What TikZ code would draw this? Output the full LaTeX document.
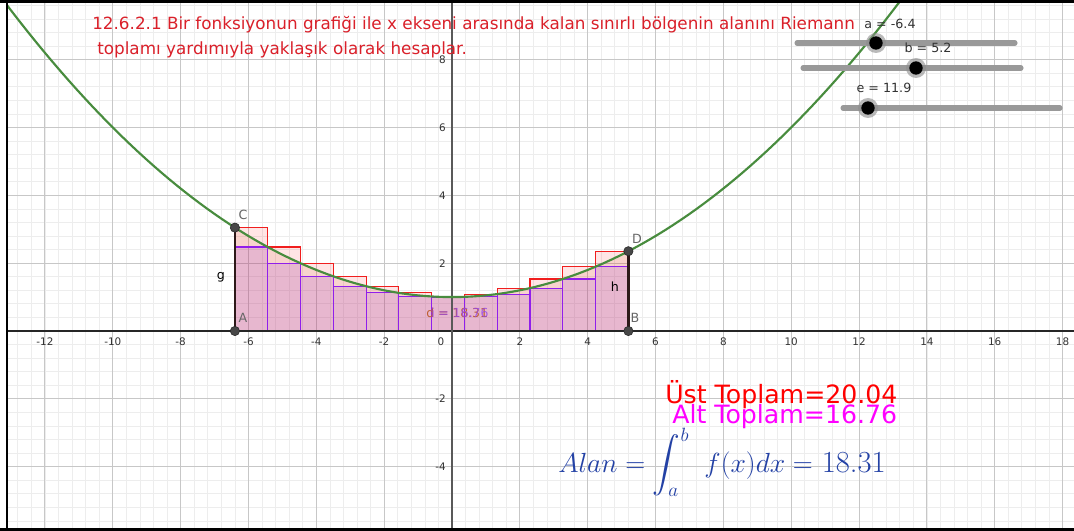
\documentclass[tikz,border=0pt]{standalone}
\usepackage{amsmath}
\usepackage{exscale}
\usepackage[no-math]{fontspec}
\newfontfamily\ggfont{DejaVu Sans}
\definecolor{titlered}{RGB}{218,32,42}
\definecolor{curvegreen}{RGB}{72,140,62}
\definecolor{uppered}{RGB}{240,30,30}
\definecolor{lowpurple}{RGB}{145,30,235}
\definecolor{lowfillc}{RGB}{150,50,220}
\definecolor{intfillc}{RGB}{210,110,70}
\definecolor{segdark}{RGB}{45,25,25}
\definecolor{formblue}{RGB}{35,65,165}
\definecolor{dbrown}{RGB}{190,95,50}
\definecolor{ipurple}{RGB}{150,70,235}
\definecolor{sumred}{RGB}{255,0,0}
\definecolor{summag}{RGB}{255,0,255}
\tikzset{
  minorgrid/.style={draw=black!7, line width=0.55pt},
  majorgrid/.style={draw=black!22, line width=0.75pt},
  axisline/.style={draw=black!85, line width=0.9pt},
  yaxisline/.style={draw=black!65, line width=0.9pt},
  upfill/.style={fill=red, fill opacity=0.1},
  intfill/.style={fill=intfillc, fill opacity=0.15},
  lowfill/.style={fill=lowfillc, fill opacity=0.17},
  upline/.style={draw=uppered, line width=0.8pt},
  lowline/.style={draw=lowpurple, line width=0.8pt},
  curveline/.style={draw=curvegreen, line width=1.6pt},
  segline/.style={draw=segdark, line width=1.9pt},
  ptdot/.style={circle, fill=black!72, draw=black!85, line width=0.4pt, minimum size=7pt, inner sep=0pt},
  tick/.style={font=\ggfont\fontsize{7.8}{9}\selectfont, text=black!80, inner sep=0pt},
  ptlabel/.style={font=\ggfont\fontsize{9.5}{11}\selectfont, text=black!60, inner sep=0pt},
  seglabel/.style={font=\ggfont\fontsize{9.5}{11}\selectfont, text=black, inner sep=0pt},
  slidertext/.style={font=\ggfont\fontsize{9.5}{11}\selectfont, text=black!80, inner sep=0pt},
  track/.style={draw=black!40, line width=3.8pt, line cap=round},
  halo/.style={circle, fill=black!45, fill opacity=0.6, minimum size=15pt, inner sep=0pt},
  knob/.style={circle, fill=black, minimum size=10pt, inner sep=0pt},
  titletext/.style={font=\ggfont\fontsize{12.6}{15}\selectfont, text=titlered, inner sep=0pt, anchor=base west},
  bigtext/.style={font=\ggfont\fontsize{18.9}{22}\selectfont, inner sep=0pt, anchor=base west},
  smalllab/.style={font=\ggfont\fontsize{9.3}{11}\selectfont, inner sep=0pt, anchor=base west},
  frameline/.style={draw=black, line width=2.2pt}
}
\begin{document}
\begin{tikzpicture}[x=0.75pt,y=-0.75pt]
\useasboundingbox (0,0) rectangle (1074,531);
\fill[white] (0,0) rectangle (1074,531);
\begin{scope}
\clip (7,2) rectangle (1074,529);
\begin{scope}[shift={(339pt,-248.25pt)},x=25.44pt,y=25.44pt]
  % grid
  \draw[minorgrid] (-14,-6.4) grid[step=0.4] (19.2,10);
  \draw[majorgrid] (-14,-8) grid[step=2] (20,10);
  % fills
  \foreach \i in {0,...,11}{
    \pgfmathsetmacro\xl{-6.4+\i*11.6/12}
    \pgfmathsetmacro\xr{\xl+11.6/12}
    \pgfmathsetmacro\fl{0.05*(\xl)*(\xl)+1}
    \pgfmathsetmacro\fr{0.05*(\xr)*(\xr)+1}
    \pgfmathsetmacro\up{max(\fl,\fr)}
    \fill[upfill] (\xl,0) rectangle (\xr,\up);
  }
  \fill[intfill] (-6.4,0) -- plot[domain=-6.4:5.2, samples=80] (\x,{0.05*\x*\x+1}) -- (5.2,0) -- cycle;
  \foreach \i in {0,...,11}{
    \pgfmathsetmacro\xl{-6.4+\i*11.6/12}
    \pgfmathsetmacro\xr{\xl+11.6/12}
    \pgfmathsetmacro\fl{0.05*(\xl)*(\xl)+1}
    \pgfmathsetmacro\fr{0.05*(\xr)*(\xr)+1}
    \pgfmathsetmacro\mn{min(\fl,\fr)}
    \pgfmathsetmacro\lo{\mn-((\xl<0)*(\xr>0))*(\mn-1)}
    \fill[lowfill] (\xl,0) rectangle (\xr,\lo);
  }
  % outlines
  \foreach \i in {0,...,11}{
    \pgfmathsetmacro\xl{-6.4+\i*11.6/12}
    \pgfmathsetmacro\xr{\xl+11.6/12}
    \pgfmathsetmacro\fl{0.05*(\xl)*(\xl)+1}
    \pgfmathsetmacro\fr{0.05*(\xr)*(\xr)+1}
    \pgfmathsetmacro\up{max(\fl,\fr)}
    \draw[upline] (\xl,0) rectangle (\xr,\up);
  }
  \foreach \i in {0,...,11}{
    \pgfmathsetmacro\xl{-6.4+\i*11.6/12}
    \pgfmathsetmacro\xr{\xl+11.6/12}
    \pgfmathsetmacro\fl{0.05*(\xl)*(\xl)+1}
    \pgfmathsetmacro\fr{0.05*(\xr)*(\xr)+1}
    \pgfmathsetmacro\mn{min(\fl,\fr)}
    \pgfmathsetmacro\lo{\mn-((\xl<0)*(\xr>0))*(\mn-1)}
    \draw[lowline] (\xl,0) -- (\xl,\lo) -- (\xr,\lo) -- (\xr,0);
  }
  % axes
  \draw[axisline] (-14,0) -- (20,0);
  \draw[yaxisline] (0,-7) -- (0,11);
  % curve
  \draw[curveline] plot[domain=-13.6:13.6, samples=120] (\x,{0.05*\x*\x+1});
  % points and segments
  \coordinate (pA) at (-6.4,0);
  \coordinate (pB) at (5.2,0);
  \coordinate (pC) at (-6.4,3.048);
  \coordinate (pD) at (5.2,2.352);
  \draw[segline] (pA) -- (pC);
  \draw[segline] (pB) -- (pD);
  \node[ptdot] (A) at (pA) {};
  \node[ptdot] (B) at (pB) {};
  \node[ptdot] (C) at (pC) {};
  \node[ptdot] (D) at (pD) {};
\end{scope}
\end{scope}
% tick labels
\foreach \v in {-12,-10,-8,-6,-4,-2,2,4,6,8,10,12,14,16,18}{
  \node[tick] (xt\v) at ({452+\v*33.92},342) {\v};
}
\node[tick] (xt0) at (441,342) {0};
\foreach \v in {8,6,4,2,-2,-4}{
  \node[tick, anchor=east] (yt\v) at (446,{331-\v*33.92}) {\v};
}
% point labels
\node[ptlabel] (lC) at (243,215) {C};
\node[ptlabel] (lA) at (243,318) {A};
\node[ptlabel] (lD) at (637,239) {D};
\node[ptlabel] (lB) at (635,318) {B};
\node[seglabel] (lg) at (221,277) {g};
\node[seglabel] (lh) at (615,287) {h};
% overlapping value labels
\node[smalllab, text=dbrown] (dlab) at (426,317) {d = 18.31};
\node[smalllab, text=ipurple, text opacity=0.8] (ilab) at (431,317) {i = 16.76};
% sliders
\coordinate (sa1) at (797,43); \coordinate (sa2) at (1015,43);
\coordinate (sb1) at (803,68); \coordinate (sb2) at (1021,68);
\coordinate (se1) at (843,108); \coordinate (se2) at (1060,108);
\draw[track] (sa1) -- (sa2);
\draw[track] (sb1) -- (sb2);
\draw[track] (se1) -- (se2);
\node[halo] (ha) at (876,43) {};
\node[knob] (ka) at (876,43) {};
\node[halo] (hb) at (916,68) {};
\node[knob] (kb) at (916,68) {};
\node[halo] (he) at (868,108) {};
\node[knob] (ke) at (868,108) {};
\node[slidertext] (sla) at (890,24) {a = -6.4};
\node[slidertext] (slb) at (928,48) {b = 5.2};
\node[slidertext] (sle) at (884,88) {e = 11.9};
% title
\node[titletext] (t1) at (92,30) {12.6.2.1 Bir fonksiyonun grafiği ile x ekseni arasında kalan sınırlı bölgenin alanını Riemann};
\node[titletext] (t2) at (97,55) {toplamı yardımıyla yaklaşık olarak hesaplar.};
% sums
\node[bigtext, text=sumred] (ust) at (665,403) {Üst Toplam=20.04};
\node[bigtext, text=summag] (alt) at (672,423) {Alt Toplam=16.76};
\node[inner sep=0pt, anchor=base west, text=formblue] (alan) at (558,472) {\fontsize{20}{24}\selectfont $\displaystyle Alan = \int_a^b \hspace{8pt} f(x)dx = {}$\hspace{1pt}{\fontsize{23}{27}\selectfont 18.31}};
% frame
\draw[frameline] (7,0) -- (7,531);
\draw[frameline] (0,1.2) -- (1074,1.2);
\draw[frameline] (0,529.8) -- (1074,529.8);
\end{tikzpicture}
\end{document}
